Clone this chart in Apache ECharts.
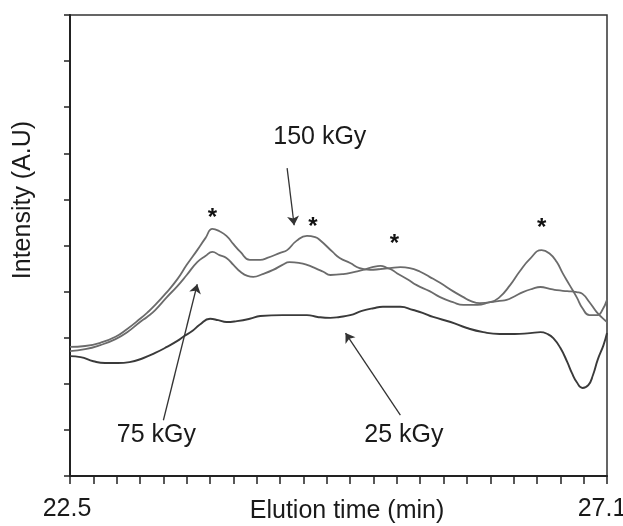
<!DOCTYPE html>
<html>
<head>
<meta charset="utf-8">
<script src="https://cdn.jsdelivr.net/npm/echarts@6/dist/echarts.min.js"></script>
<style>html,body{margin:0;padding:0;background:#fff}#c{width:623px;height:526px}</style>
</head>
<body>
<div id="c"></div>
<script>
// Elution times (min) and intensities (A.U.)
var t150 = [22.50,22.63,22.76,22.89,22.99,23.10,23.16,23.23,23.33,23.42,23.50,23.59,23.66,23.72,23.78,23.84,23.90,23.96,24.04,24.13,24.19,24.30,24.36,24.44,24.53,24.60,24.64,24.75,24.81,24.90,24.98,25.07,25.16,25.24,25.33,25.41,25.50,25.58,25.67,25.78,25.87,25.93,26.01,26.10,26.18,26.27,26.35,26.44,26.54,26.61,26.67,26.72,26.78,26.84,26.89,26.95,27.02,27.06,27.10];
var v150 = [2.80,2.82,2.89,3.02,3.19,3.41,3.54,3.71,3.99,4.27,4.58,4.90,5.16,5.36,5.31,5.21,5.03,4.86,4.69,4.69,4.73,4.84,4.90,5.10,5.21,5.18,5.12,4.86,4.73,4.62,4.51,4.47,4.49,4.51,4.53,4.51,4.43,4.32,4.19,4.01,3.88,3.80,3.75,3.77,3.88,4.14,4.43,4.71,4.90,4.82,4.64,4.40,4.14,3.88,3.64,3.49,3.49,3.60,3.82];

var t75 = [22.50,22.63,22.76,22.89,22.99,23.10,23.16,23.23,23.33,23.42,23.50,23.59,23.66,23.72,23.78,23.84,23.90,23.96,24.02,24.07,24.15,24.24,24.32,24.38,24.47,24.53,24.60,24.67,24.73,24.84,24.94,25.01,25.09,25.16,25.22,25.26,25.30,25.39,25.47,25.58,25.67,25.78,25.87,25.99,26.10,26.18,26.24,26.31,26.38,26.46,26.53,26.61,26.67,26.76,26.84,26.89,26.95,27.01,27.06,27.10];
var v75 = [2.71,2.75,2.84,2.97,3.12,3.34,3.45,3.60,3.88,4.12,4.36,4.64,4.77,4.86,4.79,4.73,4.58,4.43,4.34,4.32,4.38,4.47,4.58,4.64,4.62,4.58,4.51,4.43,4.36,4.38,4.43,4.47,4.53,4.56,4.51,4.47,4.40,4.27,4.14,4.01,3.88,3.77,3.71,3.71,3.77,3.80,3.82,3.90,3.99,4.06,4.10,4.06,4.03,4.01,3.99,3.95,3.77,3.56,3.43,3.34];

var t25 = [22.50,22.59,22.70,22.80,22.91,23.01,23.13,23.23,23.33,23.42,23.47,23.55,23.61,23.70,23.77,23.84,23.93,24.04,24.13,24.32,24.53,24.62,24.73,24.81,24.90,25.00,25.10,25.18,25.27,25.33,25.44,25.52,25.61,25.76,25.90,26.04,26.18,26.31,26.44,26.53,26.59,26.64,26.70,26.76,26.80,26.84,26.89,26.94,26.98,27.02,27.07,27.10];
var v25 = [2.60,2.58,2.49,2.45,2.45,2.47,2.56,2.67,2.80,2.93,3.02,3.15,3.28,3.41,3.38,3.34,3.36,3.41,3.47,3.49,3.49,3.45,3.43,3.45,3.49,3.58,3.64,3.67,3.67,3.67,3.60,3.54,3.45,3.34,3.21,3.12,3.08,3.08,3.10,3.12,3.08,2.99,2.78,2.47,2.23,2.04,1.91,1.97,2.19,2.52,2.84,3.10];

var xTicks = [22.5,22.7,22.9,23.1,23.3,23.5,23.7,23.9,24.1,24.3,24.5,24.7,24.9,25.1,25.3,25.5,25.7,25.9,26.1,26.3,26.5,26.7,26.9,27.1];
var xLabels = [22.5, 27.1];
var yTicks = [0,1,2,3,4,5,6,7,8,9,10];

// annotation positions (data coords)
var doseLabels = [
  {name: '150 kGy', coord: [24.64, 7.35]},
  {name: '75 kGy', coord: [23.24, 0.89]},
  {name: '25 kGy', coord: [25.36, 0.89]}
];
var arrows = [
  [[24.36, 6.68], [24.42, 5.44]],
  [[23.30, 1.21], [23.59, 4.16]],
  [[25.33, 1.32], [24.86, 3.10]]
];
var stars = [[23.72, 5.58], [24.58, 5.39], [25.28, 5.02], [26.54, 5.37]];

function zip(a, b) { return a.map(function (x, i) { return [x, b[i]]; }); }

var FONT = '"Liberation Sans", Arial, sans-serif';
var chart = echarts.init(document.getElementById('c'), null, {renderer: 'canvas'});
var labelStyle = {show: true, position: 'inside', formatter: '{b}', color: '#1a1a1a', fontSize: 25, fontFamily: FONT};

chart.setOption({
  animation: false,
  backgroundColor: '#fff',
  grid: {left: 70, right: 16, top: 15, bottom: 50, outerBoundsMode: 'none', containLabel: false,
    show: true, borderColor: '#333', borderWidth: 1.5, backgroundColor: 'transparent'},
  xAxis: {
    type: 'value', min: 22.5, max: 27.1,
    axisLine: {show: true, lineStyle: {color: '#222', width: 2}},
    axisTick: {show: true, inside: false, length: 8, customValues: xTicks, lineStyle: {color: '#222', width: 1.5}},
    axisLabel: {show: true, customValues: xLabels, margin: 21, color: '#1a1a1a', fontSize: 25, fontFamily: FONT, hideOverlap: false,
      formatter: function (v) { return v < 25 ? '{a|' + v.toFixed(1) + '}' : '{b|' + v.toFixed(1) + '}'; },
      rich: {
        a: {fontSize: 25, fontFamily: FONT, color: '#1a1a1a', padding: [0, 6, 0, 0]},
        b: {fontSize: 25, fontFamily: FONT, color: '#1a1a1a', padding: [0, 10, 0, 0]}
      }},
    splitLine: {show: false}
  },
  yAxis: {
    type: 'value', min: 0, max: 10,
    axisLine: {show: true, lineStyle: {color: '#222', width: 2}},
    axisTick: {show: true, inside: false, length: 6, customValues: yTicks, lineStyle: {color: '#222', width: 1.5}},
    axisLabel: {show: false},
    splitLine: {show: false}
  },
  graphic: [
    {type: 'text', x: 347, y: 511, style: {text: 'Elution time (min)', font: '25px ' + FONT, fill: '#1a1a1a', textAlign: 'center', textVerticalAlign: 'middle'}},
    {type: 'text', x: 23, y: 200, rotation: Math.PI / 2, style: {text: 'Intensity (A.U)', font: '25px ' + FONT, fill: '#1a1a1a', textAlign: 'center', textVerticalAlign: 'middle'}}
  ],
  series: [
    {
      name: '150 kGy', type: 'line', data: zip(t150, v150), showSymbol: false, smooth: 0.5,
      lineStyle: {color: '#6b6b6b', width: 1.8}, itemStyle: {color: '#6b6b6b'},
      markPoint: {
        symbol: 'circle', symbolSize: 1, itemStyle: {color: 'rgba(0,0,0,0)'},
        label: labelStyle,
        data: doseLabels.map(function (d) { return {name: d.name, coord: d.coord}; })
          .concat(stars.map(function (s) { return {name: '*', coord: s, label: {show: true, position: 'inside', formatter: '*', color: '#111', fontSize: 24, fontWeight: 'bold', fontFamily: FONT}}; }))
      },
      markLine: {
        silent: true, symbol: ['none', 'arrow'], symbolSize: 9,
        lineStyle: {color: '#333', width: 1.3, type: 'solid'},
        label: {show: false},
        data: arrows.map(function (a) { return [{coord: a[0]}, {coord: a[1]}]; })
      }
    },
    {
      name: '75 kGy', type: 'line', data: zip(t75, v75), showSymbol: false, smooth: 0.5,
      lineStyle: {color: '#6b6b6b', width: 1.8}, itemStyle: {color: '#6b6b6b'}
    },
    {
      name: '25 kGy', type: 'line', data: zip(t25, v25), showSymbol: false, smooth: 0.5,
      lineStyle: {color: '#3a3a3a', width: 1.9}, itemStyle: {color: '#3a3a3a'}
    }
  ]
});
</script>
</body>
</html>
